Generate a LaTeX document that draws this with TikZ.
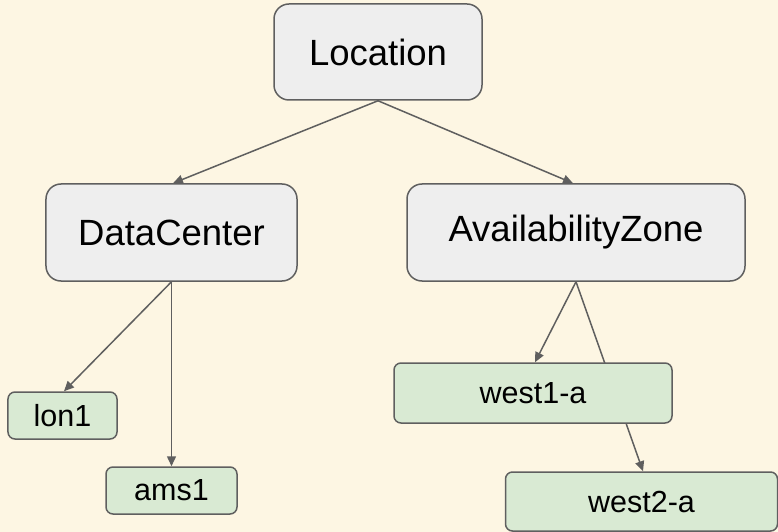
\documentclass[tikz,border=0pt]{standalone}
\usepackage{fontspec}
\setmainfont{Liberation Sans}
\usetikzlibrary{arrows.meta,backgrounds}
\definecolor{bgcream}{HTML}{FDF6E3}
\definecolor{greyfill}{HTML}{EEEEEE}
\definecolor{greenfill}{HTML}{D9EAD3}
\definecolor{edgegrey}{HTML}{5F5F5F}
\begin{document}
\begin{tikzpicture}[x=1bp,y=-1bp,
  bignode/.style={draw=edgegrey,fill=greyfill,line width=1.5bp,rounded corners=15bp,
    inner sep=0pt,font=\fontsize{36.5bp}{40bp}\selectfont},
  leafnode/.style={draw=edgegrey,fill=greenfill,line width=1.5bp,rounded corners=7bp,
    inner sep=0pt,font=\fontsize{30.5bp}{34bp}\selectfont},
  conn/.style={draw=edgegrey,line width=1.5bp,-{Triangle[length=10bp,width=9bp]}}]
\useasboundingbox (0,0) rectangle (778,532);
\node[bignode,minimum width=208bp,minimum height=96bp] (loc) at (378,52) {Location};
\node[bignode,minimum width=251bp,minimum height=97bp] (dc) at (171.5,232.5) {DataCenter};
\node[bignode,minimum width=338bp,minimum height=97bp] (az) at (576,232.5) {AvailabilityZone};
\node[leafnode,minimum width=109bp,minimum height=47bp] (lon) at (62.5,415.5) {lon1};
\node[leafnode,minimum width=131bp,minimum height=47bp] (ams) at (171.5,490.5) {ams1};
\node[leafnode,minimum width=278bp,minimum height=60bp] (w1) at (533,393) {west1-a};
\node[leafnode,minimum width=272bp,minimum height=59bp] (w2) at (641.5,501.5) {west2-a};
\begin{scope}[on background layer]
  \fill[bgcream] (0,0) rectangle (778,532);
  \draw[conn] (loc.south) -- ([xshift=1.5bp]dc.north);
  \draw[conn] (loc.south) -- ([xshift=-3bp]az.north);
  \draw[conn] (dc.south) -- ([xshift=1.5bp]lon.north);
  \draw[conn] (dc.south) -- (ams.north);
  \draw[conn] (az.south) -- ([xshift=2bp]w1.north);
  \draw[conn] (az.south) -- ([xshift=1.5bp]w2.north);
\end{scope}
\end{tikzpicture}
\end{document}
